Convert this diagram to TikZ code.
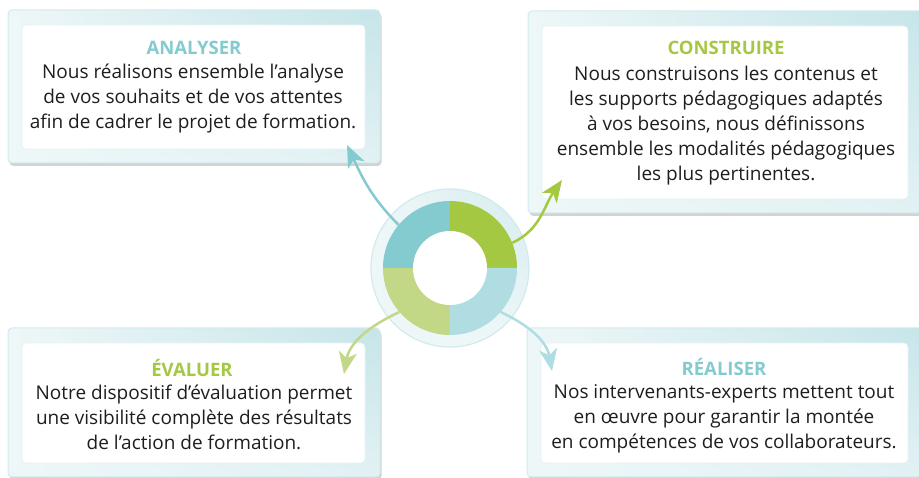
\documentclass[tikz,border=0pt]{standalone}
\usepackage{fontspec}
\setmainfont{Open Sans}
\usetikzlibrary{arrows.meta,shadows,shadings}
\definecolor{anaTeal}{HTML}{84CBD0}
\definecolor{conGreen}{HTML}{A5C843}
\definecolor{evaGreen}{HTML}{C2D886}
\definecolor{reaTeal}{HTML}{B0DDE1}
\definecolor{frameLight}{HTML}{EEF7F8}
\definecolor{frameDark}{HTML}{C6E5E9}
\definecolor{frameEdge}{HTML}{D2EAED}
\definecolor{paperEdge}{HTML}{E4F1F3}
\definecolor{inkText}{HTML}{1E1E1E}
\tikzset{
  framebox/.style={rounded corners=4pt, draw=frameEdge, line width=1pt,
    upper left=frameLight, lower left=frameLight, lower right=frameLight!70!frameDark,
    upper right=frameDark,
    drop shadow={shadow xshift=1.5pt, shadow yshift=-3pt, opacity=0.35}},
  paperbox/.style={rounded corners=4pt, fill=white, draw=paperEdge, line width=0.6pt},
  steptitle/.style={font=\bfseries\fontsize{18.5}{22}\selectfont},
  steptext/.style={align=center, text=inkText, font=\fontsize{19}{25}\selectfont},
  flowarr/.style={-{Stealth[length=22pt,width=18pt,inset=6pt]}, line width=2.5pt}
}
\begin{document}
\begin{tikzpicture}[x=1pt,y=1pt]
  \useasboundingbox (0,0) rectangle (919,478);
  \clip (0,0) rectangle (919,478);
  % cadres
  \foreach \xa/\ya/\xb/\yb in {8/315/380/468, 528/265/923/467, 8/1/380/150, 527/1/923/150} {
    \shade[framebox] (\xa,\ya) rectangle (\xb,\yb);
    \draw[paperbox] (\xa+14,\ya+14) rectangle (\xb-15,\yb-15);
  }
  % anneau
  \shade[draw=frameEdge, line width=1.2pt, upper left=frameLight, lower left=frameLight,
    lower right=frameLight, upper right=frameDark!60!frameLight] (450,210) circle[radius=79];
  \foreach \a/\c in {90/anaTeal, 0/conGreen, 180/evaGreen, 270/reaTeal}
    \fill[\c] (450,210) -- ++(\a:67) arc[start angle=\a, end angle=\a+90, radius=67] -- cycle;
  \fill[white] (450,210) circle[radius=37];
  \node[circle, minimum size=134pt, inner sep=0pt] (ring) at (450,210) {};
  % textes
  \node[steptitle, text=anaTeal] (anaTitle) at (194,430) {ANALYSER};
  \node[steptext] (anaText) at (193,379) {Nous réalisons ensemble l’analyse\\de vos souhaits et de vos attentes\\afin de cadrer le projet de formation.};
  \node[steptitle, text=conGreen] (conTitle) at (726,430) {CONSTRUIRE};
  \node[steptext] (conText) at (726,352) {Nous construisons les contenus et\\les supports pédagogiques adaptés\\à vos besoins, nous définissons\\ensemble les modalités pédagogiques\\les plus pertinentes.};
  \node[steptitle, text=conGreen] (evaTitle) at (192,110) {ÉVALUER};
  \node[steptext] (evaText) at (194,61) {Notre dispositif d’évaluation permet\\une visibilité complète des résultats\\de l’action de formation.};
  \node[steptitle, text=anaTeal] (reaTitle) at (724,111) {RÉALISER};
  \node[steptext] (reaText) at (724,59) {Nos intervenants-experts mettent tout\\en œuvre pour garantir la montée\\en compétences de vos collaborateurs.};
  % fleches
  \coordinate (anaTip) at (347,333);
  \coordinate (conTip) at (562,298);
  \coordinate (evaTip) at (344,104);
  \coordinate (reaTip) at (552,107);
  \draw[flowarr, anaTeal] (ring.140) to[out=135, in=-65] (anaTip);
  \draw[flowarr, conGreen] (ring.22) to[out=25, in=-125] (conTip);
  \draw[flowarr, evaGreen] (ring.221) to[out=205, in=80] (evaTip);
  \draw[flowarr, reaTeal] (ring.319) to[out=-25, in=100] (reaTip);
\end{tikzpicture}
\end{document}
